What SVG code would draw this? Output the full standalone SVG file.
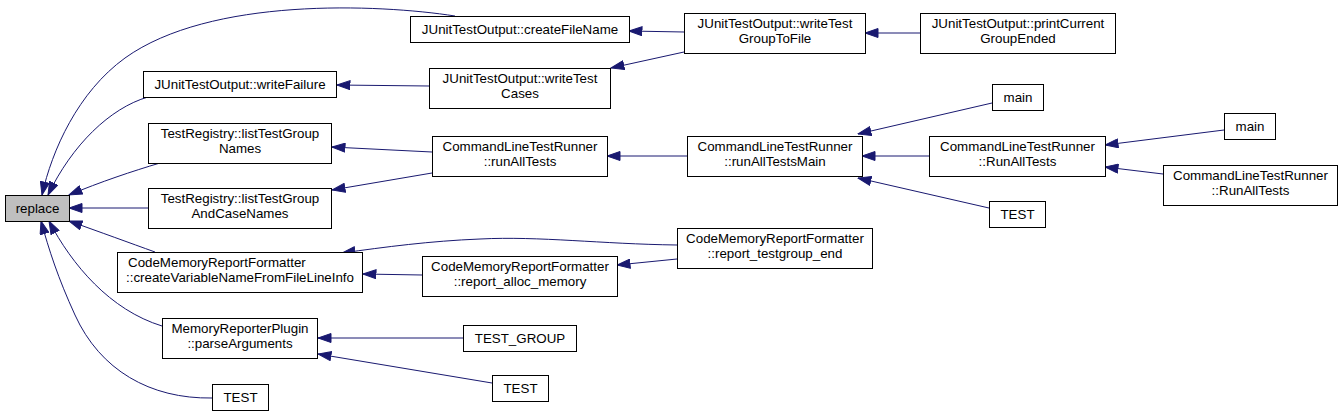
<svg xmlns="http://www.w3.org/2000/svg" width="1343" height="416" viewBox="0 0 1343 416">
<style>
.n rect{fill:#ffffff;stroke:#000000;stroke-width:1}
.n text{font-family:"Liberation Sans",Arial,sans-serif;font-size:13.33px;fill:#000000;text-anchor:middle}
.e path{fill:none;stroke:#191970;stroke-width:1;marker-end:url(#ah)}
</style>
<defs>
<marker id="ah" markerUnits="userSpaceOnUse" viewBox="0 0 14 10" refX="13.5" refY="5" markerWidth="14" markerHeight="10" orient="auto">
<path d="M0.5,0.5 L13.5,5 L0.5,9.5 z" fill="#191970" stroke="#191970" stroke-width="1"/>
</marker>
</defs>
<rect width="1343" height="416" fill="#ffffff"/>
<g id="connectors" class="e">
<path d="M455,16 C378,4 210,-3 125,58 C78,92 52,150 42,195"/>
<path d="M148,97 C110,108 72,145 48,195"/>
<path d="M160,163 C133,171 100,182 69,195"/>
<path d="M148,208 L69,208"/>
<path d="M155,252 C130,243 100,232 69,221"/>
<path d="M162,326 C110,310 72,265 49,221"/>
<path d="M212,398 C150,399 100,370 75,315 C58,278 49,250 41,221"/>
<path d="M429,86 L337,85"/>
<path d="M684,32 L629,31"/>
<path d="M684,52 L611,68"/>
<path d="M920,33 L865,33"/>
<path d="M432,152 L332,147"/>
<path d="M432,173 L332,190"/>
<path d="M687,156 L607,156"/>
<path d="M992,103 L858,134"/>
<path d="M929,156 L862,156"/>
<path d="M989,208 L858,178"/>
<path d="M1224,130 L1105,145"/>
<path d="M1163,174 L1105,167"/>
<path d="M677,245 C600,244 540,236 480,239 C430,241 385,247 342,253"/>
<path d="M422,275 L363,274"/>
<path d="M677,259 L617,265"/>
<path d="M463,338 L318,338"/>
<path d="M492,383 L318,354"/>
</g>
<g id="replace" class="n"><rect x="5.5" y="195.5" width="64" height="26" style="fill:#bfbfbf"/><text x="37.5" y="213">replace</text></g>
<g id="createFileName" class="n"><rect x="410.5" y="16.5" width="219" height="26"/><text x="520" y="34">JUnitTestOutput::createFileName</text></g>
<g id="writeFailure" class="n"><rect x="143.5" y="71.5" width="193" height="26"/><text x="240" y="89">JUnitTestOutput::writeFailure</text></g>
<g id="writeTestCases" class="n"><rect x="429.5" y="68.5" width="181" height="40"/><text x="520" y="83">JUnitTestOutput::writeTest</text><text x="520" y="98">Cases</text></g>
<g id="writeTestGroupToFile" class="n"><rect x="684.5" y="13.5" width="181" height="40"/><text x="775" y="28">JUnitTestOutput::writeTest</text><text x="775" y="43">GroupToFile</text></g>
<g id="printCurrentGroupEnded" class="n"><rect x="920.5" y="13.5" width="195" height="40"/><text x="1018" y="28">JUnitTestOutput::printCurrent</text><text x="1018" y="43">GroupEnded</text></g>
<g id="listTestGroupNames" class="n"><rect x="148.5" y="123.5" width="183" height="40"/><text x="240" y="138">TestRegistry::listTestGroup</text><text x="240" y="153">Names</text></g>
<g id="listTestGroupAndCaseNames" class="n"><rect x="148.5" y="188.5" width="183" height="40"/><text x="240" y="203">TestRegistry::listTestGroup</text><text x="240" y="218">AndCaseNames</text></g>
<g id="runAllTests" class="n"><rect x="432.5" y="136.5" width="175" height="40"/><text x="520" y="151">CommandLineTestRunner</text><text x="520" y="166">::runAllTests</text></g>
<g id="runAllTestsMain" class="n"><rect x="687.5" y="136.5" width="175" height="40"/><text x="775" y="151">CommandLineTestRunner</text><text x="775" y="166">::runAllTestsMain</text></g>
<g id="main1" class="n"><rect x="992.5" y="84.5" width="51" height="26"/><text x="1018" y="102">main</text></g>
<g id="RunAllTests" class="n"><rect x="929.5" y="136.5" width="176" height="40"/><text x="1017.5" y="151">CommandLineTestRunner</text><text x="1017.5" y="166">::RunAllTests</text></g>
<g id="TEST_right" class="n"><rect x="989.5" y="201.5" width="56" height="26"/><text x="1017.5" y="219">TEST</text></g>
<g id="main2" class="n"><rect x="1224.5" y="113.5" width="51" height="26"/><text x="1250" y="131">main</text></g>
<g id="RunAllTests2" class="n"><rect x="1163.5" y="165.5" width="174" height="40"/><text x="1250.5" y="180">CommandLineTestRunner</text><text x="1250.5" y="195">::RunAllTests</text></g>
<g id="createVariableName" class="n"><rect x="117.5" y="252.5" width="245" height="40"/><text x="128" y="267" style="text-anchor:start">CodeMemoryReportFormatter</text><text x="240" y="282">::createVariableNameFromFileLineInfo</text></g>
<g id="report_alloc_memory" class="n"><rect x="422.5" y="256.5" width="195" height="40"/><text x="520" y="271">CodeMemoryReportFormatter</text><text x="520" y="286">::report_alloc_memory</text></g>
<g id="report_testgroup_end" class="n"><rect x="677.5" y="228.5" width="195" height="40"/><text x="775" y="243">CodeMemoryReportFormatter</text><text x="775" y="258">::report_testgroup_end</text></g>
<g id="parseArguments" class="n"><rect x="162.5" y="318.5" width="155" height="40"/><text x="240" y="333">MemoryReporterPlugin</text><text x="240" y="348">::parseArguments</text></g>
<g id="TEST_GROUP" class="n"><rect x="463.5" y="325.5" width="113" height="26"/><text x="520" y="343">TEST_GROUP</text></g>
<g id="TEST_mid" class="n"><rect x="492.5" y="375.5" width="56" height="26"/><text x="520.5" y="393">TEST</text></g>
<g id="TEST_left" class="n"><rect x="212.5" y="384.5" width="56" height="26"/><text x="240.5" y="402">TEST</text></g>
</svg>
